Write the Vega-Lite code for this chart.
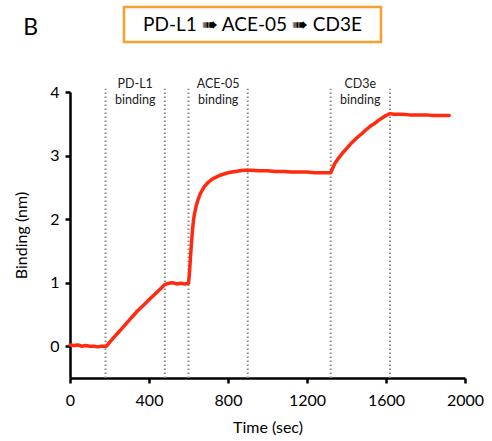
{
  "$schema": "https://vega.github.io/schema/vega-lite/v6.json",
  "background": "white",
  "padding": {"left": 13, "top": 5, "right": 5, "bottom": 5},
  "spacing": 33,
  "config": {"view": {"stroke": null}, "font": "Lato"},
  "vconcat": [
    {
      "spacing": 0,
      "hconcat": [
        {
          "width": 52,
          "height": 35,
          "title": {"text": "B", "orient": "left", "angle": 0, "align": "right", "baseline": "middle", "fontSize": 23, "fontWeight": "normal", "color": "black", "offset": 17, "dy": 3},
          "data": {"values": []},
          "mark": {"type": "text"},
          "encoding": {}
        },
        {
          "width": 257,
          "height": 35,
          "view": {"stroke": "#f7a030", "strokeWidth": 2.5},
          "data": {"values": [{"label": "PD-L1 ➠ ACE-05 ➠ CD3E"}]},
          "mark": {"type": "text", "fontSize": 19, "color": "black", "baseline": "middle"},
          "encoding": {"text": {"field": "label"}}
        }
      ]
    },
    {
      "width": 395,
      "height": 286,
      "layer": [
        {
          "data": {"values": [{"t": 180}, {"t": 480}, {"t": 600}, {"t": 900}, {"t": 1320}, {"t": 1620}]},
          "mark": {"type": "rule", "color": "#8a8a8a", "strokeWidth": 2, "strokeDash": [1.5, 2.5]},
          "encoding": {
            "x": {"field": "t", "type": "quantitative"},
            "y": {"datum": -0.5},
            "y2": {"datum": 4.05}
          }
        },
        {
          "data": {"values": [
            {"t": 330, "label": ["PD-L1", "binding"]},
            {"t": 750, "label": ["ACE-05", "binding"]},
            {"t": 1470, "label": ["CD3e", "binding"]}
          ]},
          "mark": {"type": "text", "fontSize": 12.5, "color": "#222", "baseline": "middle", "lineHeight": 16},
          "encoding": {
            "x": {"field": "t", "type": "quantitative"},
            "y": {"datum": 4.13},
            "text": {"field": "label"}
          }
        },
        {
          "data": {"values": [
            {"t": 0, "v": 0.02}, {"t": 20, "v": 0.01}, {"t": 40, "v": 0.02}, {"t": 60, "v": 0.0}, {"t": 80, "v": 0.01},
            {"t": 100, "v": 0.0}, {"t": 120, "v": 0.0}, {"t": 140, "v": -0.01}, {"t": 160, "v": 0.0}, {"t": 185, "v": 0.0},
            {"t": 200, "v": 0.06}, {"t": 220, "v": 0.13}, {"t": 240, "v": 0.2}, {"t": 260, "v": 0.27}, {"t": 280, "v": 0.34},
            {"t": 300, "v": 0.41}, {"t": 320, "v": 0.48}, {"t": 340, "v": 0.55}, {"t": 360, "v": 0.61}, {"t": 380, "v": 0.67},
            {"t": 400, "v": 0.73}, {"t": 420, "v": 0.79}, {"t": 440, "v": 0.85}, {"t": 460, "v": 0.91}, {"t": 480, "v": 0.97},
            {"t": 490, "v": 0.98}, {"t": 500, "v": 0.99}, {"t": 520, "v": 1.0}, {"t": 540, "v": 0.98}, {"t": 560, "v": 0.99},
            {"t": 580, "v": 0.98}, {"t": 600, "v": 0.99},
            {"t": 605, "v": 1.15}, {"t": 610, "v": 1.4}, {"t": 615, "v": 1.62}, {"t": 620, "v": 1.82}, {"t": 625, "v": 1.97},
            {"t": 630, "v": 2.08}, {"t": 640, "v": 2.22}, {"t": 650, "v": 2.32}, {"t": 660, "v": 2.4}, {"t": 680, "v": 2.51},
            {"t": 700, "v": 2.58}, {"t": 720, "v": 2.63}, {"t": 740, "v": 2.66}, {"t": 760, "v": 2.69}, {"t": 780, "v": 2.71},
            {"t": 800, "v": 2.73}, {"t": 820, "v": 2.74}, {"t": 840, "v": 2.75}, {"t": 860, "v": 2.76}, {"t": 880, "v": 2.77},
            {"t": 900, "v": 2.77}, {"t": 920, "v": 2.77}, {"t": 960, "v": 2.76}, {"t": 1000, "v": 2.76}, {"t": 1040, "v": 2.75},
            {"t": 1080, "v": 2.75}, {"t": 1120, "v": 2.74}, {"t": 1160, "v": 2.74}, {"t": 1200, "v": 2.74}, {"t": 1240, "v": 2.73},
            {"t": 1280, "v": 2.73}, {"t": 1320, "v": 2.73},
            {"t": 1330, "v": 2.8}, {"t": 1340, "v": 2.87}, {"t": 1360, "v": 2.96}, {"t": 1380, "v": 3.04}, {"t": 1400, "v": 3.11},
            {"t": 1420, "v": 3.18}, {"t": 1440, "v": 3.24}, {"t": 1460, "v": 3.3}, {"t": 1480, "v": 3.35}, {"t": 1500, "v": 3.41},
            {"t": 1520, "v": 3.46}, {"t": 1540, "v": 3.5}, {"t": 1560, "v": 3.55}, {"t": 1580, "v": 3.59}, {"t": 1600, "v": 3.63},
            {"t": 1620, "v": 3.66}, {"t": 1640, "v": 3.65}, {"t": 1680, "v": 3.65}, {"t": 1720, "v": 3.64}, {"t": 1760, "v": 3.64},
            {"t": 1800, "v": 3.64}, {"t": 1840, "v": 3.63}, {"t": 1880, "v": 3.63}, {"t": 1920, "v": 3.63}
          ]},
          "mark": {"type": "line", "color": "#ff2a10", "strokeWidth": 3.5, "strokeJoin": "round", "strokeCap": "round"},
          "encoding": {
            "x": {
              "field": "t", "type": "quantitative",
              "scale": {"domain": [0, 2000], "nice": false},
              "axis": {
                "title": "Time (sec)", "values": [0, 200, 400, 600, 800, 1000, 1200, 1400, 1600, 1800, 2000],
                "labelExpr": "datum.value % 400 == 0 ? datum.label : ''",
                "format": "d",
                "grid": false, "domainColor": "black", "domainWidth": 2.5, "tickColor": "black", "tickWidth": 2.5, "tickSize": 5,
                "labelFontSize": 16, "labelColor": "black", "labelPadding": 9, "labelFlush": false,
                "titleFontSize": 16, "titleFontWeight": "normal", "titleColor": "black", "titlePadding": 11
              }
            },
            "y": {
              "field": "v", "type": "quantitative",
              "scale": {"domain": [-0.5, 4], "nice": false},
              "axis": {
                "title": "Binding (nm)", "values": [0, 0.5, 1, 1.5, 2, 2.5, 3, 3.5, 4],
                "labelExpr": "datum.value % 1 == 0 ? datum.label : ''",
                "format": "d",
                "grid": false, "domainColor": "black", "domainWidth": 2.5, "tickColor": "black", "tickWidth": 2.5, "tickSize": 5,
                "labelFontSize": 16, "labelColor": "black", "labelPadding": 6, "labelFlush": false,
                "titleFontSize": 16, "titleFontWeight": "normal", "titleColor": "black", "titlePadding": 20
              }
            }
          }
        }
      ]
    }
  ]
}
